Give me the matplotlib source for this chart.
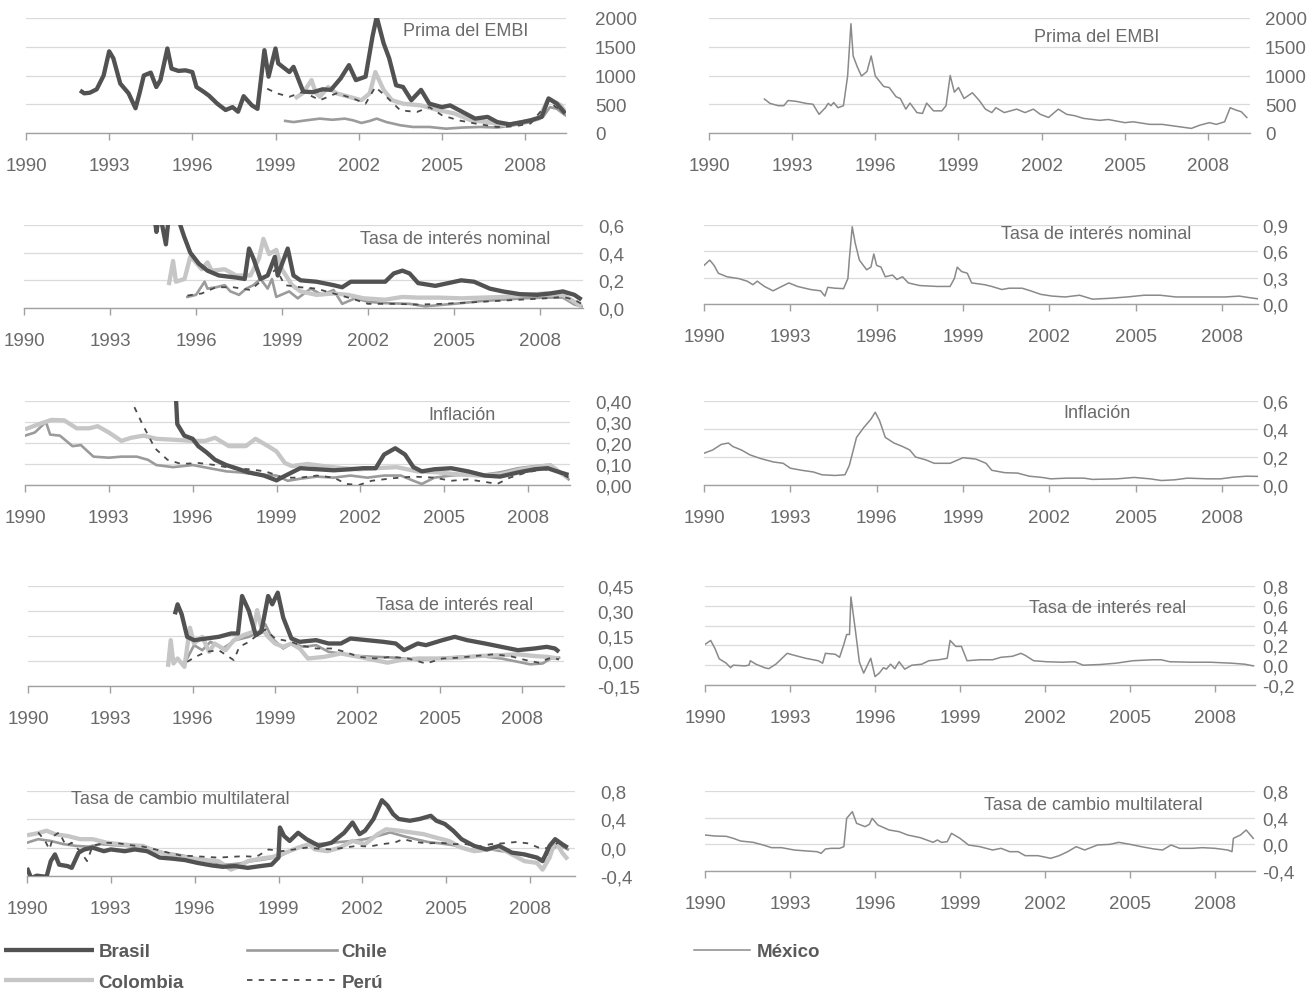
import matplotlib.pyplot as plt
from matplotlib.ticker import FixedLocator, FuncFormatter

plt.rcParams['font.family'] = ['Liberation Sans Narrow', 'Liberation Sans', 'DejaVu Sans']

W, H = 1314, 1003
TXT = '#6a6a6a'

# ---------------- Prima del EMBI (pb) ----------------
embi_br_t = [1991.95, 1992.1, 1992.3, 1992.55, 1992.8, 1993.0, 1993.15, 1993.4, 1993.7, 1993.95,
             1994.1, 1994.25, 1994.5, 1994.7, 1994.85, 1995.1, 1995.25, 1995.5, 1995.75, 1996.0,
             1996.15, 1996.4, 1996.6, 1996.9, 1997.2, 1997.45, 1997.65, 1997.85, 1998.15, 1998.35,
             1998.6, 1998.75, 1999.0, 1999.1, 1999.5, 1999.65, 2000.0, 2000.35, 2000.7, 2001.0,
             2001.35, 2001.65, 2001.9, 2002.25, 2002.5, 2002.65, 2002.9, 2003.1, 2003.35, 2003.6,
             2003.9, 2004.25, 2004.55, 2005.0, 2005.3, 2005.75, 2006.2, 2006.65, 2007.0, 2007.45,
             2007.9, 2008.2, 2008.6, 2008.85, 2009.15, 2009.45]
embi_br = [740, 690, 700, 760, 1000, 1420, 1300, 860, 690, 430,
           700, 1000, 1050, 800, 920, 1470, 1120, 1080, 1090, 1060,
           800, 720, 650, 510, 400, 450, 370, 640, 480, 420,
           1440, 980, 1470, 1210, 1060, 1150, 720, 710, 760, 750,
           950, 1180, 920, 980, 1680, 2020, 1560, 1300, 830, 800,
           570, 750, 510, 450, 480, 365, 250, 280, 190, 150,
           190, 220, 280, 600, 510, 340]
embi_co_t = [1999.7, 2000.0, 2000.3, 2000.45, 2000.6, 2000.9, 2001.2, 2001.65, 2002.1, 2002.4,
             2002.6, 2002.9, 2003.2, 2003.6, 2004.25, 2004.85, 2005.45, 2006.05, 2006.65, 2007.3,
             2007.9, 2008.5, 2008.85, 2009.3, 2009.45]
embi_co = [600, 700, 920, 700, 630, 800, 690, 630, 570, 690,
           1060, 750, 570, 510, 480, 400, 340, 220, 190, 135,
           190, 250, 600, 480, 365]
embi_ch_t = [1999.35, 1999.65, 2000.1, 2000.6, 2001.05, 2001.5, 2001.8, 2002.1, 2002.4, 2002.65,
             2003.0, 2003.5, 2003.95, 2004.55, 2005.15, 2005.75, 2006.4, 2007.0, 2007.6, 2008.2,
             2008.65, 2008.9, 2009.15, 2009.45]
embi_ch = [210, 190, 220, 250, 230, 250, 220, 175, 210, 250,
           190, 135, 105, 105, 75, 95, 105, 95, 135, 190,
           280, 450, 420, 310]
embi_pe_t = [1998.7, 1999.05, 1999.5, 2000.0, 2000.6, 2001.2, 2001.8, 2002.25, 2002.6, 2003.0,
             2003.5, 2004.1, 2004.55, 2005.0, 2005.6, 2006.2, 2007.0, 2007.6, 2008.2, 2008.85,
             2009.45]
embi_pe = [770, 690, 630, 715, 570, 690, 600, 510, 800, 630,
           395, 365, 450, 310, 220, 165, 105, 115, 165, 540,
           340]
embi_mx_t = [1992.0, 1992.2, 1992.5, 1992.7, 1992.85, 1993.15, 1993.5, 1993.75, 1993.97, 1994.2,
             1994.3, 1994.4, 1994.5, 1994.65, 1994.85, 1995.0, 1995.12, 1995.2, 1995.35, 1995.5,
             1995.7, 1995.85, 1996.0, 1996.15, 1996.3, 1996.5, 1996.75, 1996.9, 1997.1, 1997.25,
             1997.5, 1997.7, 1997.85, 1998.1, 1998.4, 1998.55, 1998.7, 1998.85, 1999.0, 1999.2,
             1999.5, 1999.75, 1999.97, 2000.2, 2000.35, 2000.65, 2001.1, 2001.4, 2001.7, 2001.95,
             2002.25, 2002.6, 2002.9, 2003.2, 2003.5, 2004.1, 2004.4, 2005.0, 2005.3, 2005.9,
             2006.35, 2006.8, 2007.4, 2007.7, 2008.05, 2008.3, 2008.6, 2008.8, 2009.0, 2009.2,
             2009.4]
embi_mx = [590, 515, 475, 475, 565, 550, 515, 500, 325, 440,
           515, 475, 530, 440, 475, 990, 1900, 1340, 1150, 990,
           1070, 1340, 990, 900, 810, 790, 630, 600, 415, 520,
           355, 340, 520, 385, 385, 475, 1000, 710, 790, 600,
           700, 565, 415, 355, 440, 355, 415, 355, 415, 325,
           270, 415, 325, 300, 255, 220, 235, 180, 195, 150,
           150, 120, 80, 135, 180, 150, 195, 440, 400, 370,
           270]

# ---------------- Tasa de interés nominal ----------------
nom_br_t = [1994.55, 1994.62, 1994.7, 1994.8, 1994.95, 1995.05, 1995.25, 1995.42, 1995.58, 1995.8,
            1996.1, 1996.4, 1996.8, 1997.4, 1997.7, 1997.85, 1998.0, 1998.25, 1998.5, 1998.75,
            1998.85, 1999.2, 1999.4, 1999.65, 2000.2, 2000.8, 2001.1, 2001.4, 2002.0, 2002.6,
            2002.9, 2003.2, 2003.45, 2003.75, 2004.35, 2004.8, 2005.25, 2005.7, 2006.25, 2006.7,
            2007.3, 2007.9, 2008.35, 2008.8, 2009.2, 2009.45]
nom_br = [0.66, 0.55, 0.66, 0.62, 0.46, 0.66, 0.90, 0.62, 0.52, 0.40,
          0.32, 0.27, 0.235, 0.22, 0.21, 0.43, 0.36, 0.21, 0.235, 0.37,
          0.235, 0.43, 0.235, 0.20, 0.19, 0.165, 0.15, 0.19, 0.19, 0.19,
          0.25, 0.27, 0.25, 0.18, 0.16, 0.18, 0.20, 0.19, 0.14, 0.12,
          0.10, 0.095, 0.105, 0.12, 0.095, 0.06]
nom_co_t = [1995.05, 1995.2, 1995.3, 1995.6, 1995.8, 1995.95, 1996.2, 1996.4, 1996.55, 1997.0,
            1997.4, 1997.9, 1998.2, 1998.35, 1998.55, 1998.8, 1999.0, 1999.35, 1999.65, 2000.2,
            2000.8, 2001.3, 2001.85, 2002.6, 2003.2, 2003.75, 2004.5, 2005.25, 2005.95, 2006.7,
            2007.45, 2008.2, 2008.8, 2009.2, 2009.45]
nom_co = [0.165, 0.34, 0.19, 0.21, 0.37, 0.34, 0.28, 0.33, 0.27, 0.28,
          0.235, 0.235, 0.36, 0.50, 0.39, 0.42, 0.28, 0.165, 0.12, 0.095,
          0.105, 0.095, 0.07, 0.06, 0.08, 0.075, 0.075, 0.07, 0.075, 0.08,
          0.095, 0.105, 0.095, 0.045, 0.01]
nom_ch_t = [1995.7, 1996.0, 1996.3, 1996.4, 1996.7, 1997.0, 1997.2, 1997.5, 1997.75, 1998.0,
            1998.25, 1998.5, 1998.65, 1998.8, 1999.25, 1999.55, 2000.0, 2000.4, 2000.8, 2001.1,
            2001.55, 2002.0, 2002.6, 2003.45, 2004.0, 2004.7, 2005.25, 2005.95, 2006.7, 2007.45,
            2008.2, 2008.8, 2009.2, 2009.45]
nom_ch = [0.08, 0.095, 0.19, 0.14, 0.15, 0.165, 0.12, 0.095, 0.14, 0.165,
          0.21, 0.14, 0.21, 0.08, 0.12, 0.07, 0.14, 0.095, 0.13, 0.03,
          0.07, 0.045, 0.035, 0.03, 0.012, 0.025, 0.035, 0.05, 0.06, 0.07,
          0.075, 0.075, 0.025, 0.012]
nom_pe_t = [1995.7, 1996.2, 1996.7, 1997.3, 1997.9, 1998.5, 1998.8, 1999.1, 1999.65, 2000.2,
            2000.8, 2001.4, 2002.0, 2002.9, 2003.75, 2004.6, 2005.55, 2006.4, 2007.3, 2008.2,
            2008.8, 2009.2, 2009.45]
nom_pe = [0.09, 0.105, 0.15, 0.15, 0.13, 0.235, 0.28, 0.165, 0.15, 0.14,
          0.105, 0.07, 0.03, 0.03, 0.025, 0.03, 0.04, 0.05, 0.06, 0.07,
          0.08, 0.06, 0.03]
nom_mx_t = [1990.0, 1990.2, 1990.35, 1990.5, 1990.8, 1991.2, 1991.5, 1991.7, 1991.85, 1992.1,
            1992.4, 1992.7, 1992.95, 1993.25, 1993.7, 1994.05, 1994.2, 1994.3, 1994.55, 1994.85,
            1995.0, 1995.05, 1995.15, 1995.25, 1995.4, 1995.65, 1995.8, 1995.9, 1996.0, 1996.15,
            1996.3, 1996.55, 1996.7, 1996.9, 1997.1, 1997.5, 1998.1, 1998.55, 1998.7, 1998.8,
            1998.95, 1999.15, 1999.3, 1999.75, 2000.0, 2000.35, 2000.6, 2001.05, 2001.35, 2001.7,
            2002.1, 2002.55, 2003.05, 2003.35, 2003.5, 2004.1, 2004.7, 2005.3, 2005.85, 2006.4,
            2007.25, 2008.1, 2008.6, 2009.0, 2009.35]
nom_mx = [0.44, 0.50, 0.44, 0.35, 0.31, 0.29, 0.26, 0.22, 0.26, 0.20,
          0.15, 0.20, 0.24, 0.20, 0.165, 0.15, 0.09, 0.19, 0.18, 0.175,
          0.29, 0.51, 0.88, 0.70, 0.50, 0.39, 0.42, 0.57, 0.44, 0.42,
          0.31, 0.33, 0.28, 0.31, 0.24, 0.21, 0.20, 0.20, 0.29, 0.42,
          0.37, 0.35, 0.24, 0.22, 0.20, 0.165, 0.18, 0.18, 0.15, 0.11,
          0.09, 0.08, 0.10, 0.07, 0.055, 0.065, 0.08, 0.10, 0.10, 0.08,
          0.08, 0.08, 0.09, 0.07, 0.055]

# ---------------- Inflación ----------------
inf_br_t = [1995.35, 1995.45, 1995.7, 1996.0, 1996.2, 1996.5, 1996.8, 1997.2, 1997.55, 1998.0,
            1998.55, 1999.0, 1999.25, 1999.55, 1999.85, 2000.45, 2001.05, 2001.65, 2002.1, 2002.55,
            2002.85, 2003.25, 2003.6, 2003.9, 2004.2, 2004.65, 2005.25, 2005.85, 2006.45, 2007.0,
            2007.65, 2008.25, 2008.7, 2009.15, 2009.45]
inf_br = [0.55, 0.29, 0.235, 0.22, 0.185, 0.155, 0.12, 0.095, 0.08, 0.06,
          0.045, 0.022, 0.04, 0.06, 0.08, 0.075, 0.07, 0.075, 0.08, 0.08,
          0.145, 0.175, 0.145, 0.085, 0.065, 0.075, 0.08, 0.065, 0.045, 0.04,
          0.06, 0.075, 0.08, 0.06, 0.048]
inf_co_t = [1990.0, 1990.5, 1990.95, 1991.4, 1991.85, 1992.3, 1992.6, 1993.0, 1993.45, 1993.8,
            1994.25, 1994.7, 1995.4, 1996.0, 1996.45, 1996.8, 1997.3, 1997.9, 1998.25, 1998.7,
            1999.0, 1999.3, 1999.55, 2000.1, 2000.7, 2001.35, 2001.95, 2002.55, 2003.3, 2004.05,
            2004.8, 2005.55, 2006.3, 2007.0, 2007.75, 2008.5, 2008.8, 2009.25, 2009.45]
inf_co = [0.265, 0.29, 0.31, 0.308, 0.27, 0.27, 0.28, 0.25, 0.21, 0.225,
          0.235, 0.22, 0.215, 0.21, 0.21, 0.225, 0.185, 0.185, 0.22, 0.185,
          0.16, 0.105, 0.09, 0.10, 0.09, 0.08, 0.075, 0.08, 0.085, 0.065,
          0.06, 0.05, 0.045, 0.05, 0.075, 0.09, 0.095, 0.05, 0.035]
inf_ch_t = [1990.0, 1990.35, 1990.75, 1990.9, 1991.25, 1991.7, 1992.0, 1992.45, 1993.0, 1993.45,
            1994.0, 1994.4, 1994.7, 1995.3, 1996.0, 1996.6, 1997.2, 1997.7, 1998.35, 1999.0,
            1999.4, 1999.85, 2000.45, 2001.05, 2001.65, 2002.25, 2002.85, 2003.45, 2003.9, 2004.2,
            2004.65, 2005.25, 2005.85, 2006.45, 2007.0, 2007.65, 2008.25, 2008.7, 2009.15, 2009.45]
inf_ch = [0.235, 0.25, 0.30, 0.24, 0.235, 0.185, 0.19, 0.135, 0.13, 0.135,
          0.135, 0.12, 0.095, 0.085, 0.095, 0.08, 0.065, 0.06, 0.05, 0.045,
          0.02, 0.03, 0.04, 0.035, 0.045, 0.035, 0.045, 0.045, 0.02, 0.005,
          0.035, 0.045, 0.05, 0.05, 0.06, 0.08, 0.09, 0.095, 0.06, 0.027]
inf_pe_t = [1993.75, 1993.9, 1994.2, 1994.65, 1995.1, 1995.6, 1996.2, 1996.8, 1997.4, 1998.0,
            1998.6, 1999.25, 1999.85, 2000.45, 2001.05, 2001.5, 2001.95, 2002.4, 2003.15, 2003.9,
            2004.65, 2005.25, 2005.85, 2006.45, 2006.9, 2007.35, 2007.95, 2008.55, 2009.0, 2009.45]
inf_pe = [0.48, 0.375, 0.29, 0.175, 0.12, 0.10, 0.105, 0.095, 0.08, 0.075,
          0.065, 0.035, 0.035, 0.045, 0.035, 0.005, 0.0, 0.02, 0.032, 0.04,
          0.035, 0.02, 0.027, 0.015, 0.005, 0.035, 0.06, 0.075, 0.065, 0.035]
inf_mx_t = [1990.0, 1990.3, 1990.6, 1990.85, 1991.0, 1991.3, 1991.6, 1991.95, 1992.4, 1992.75,
            1993.0, 1993.4, 1993.8, 1994.1, 1994.55, 1994.9, 1995.05, 1995.3, 1995.55, 1995.8,
            1995.95, 1996.1, 1996.3, 1996.6, 1996.9, 1997.15, 1997.35, 1997.7, 1998.0, 1998.55,
            1999.0, 1999.45, 1999.8, 2000.0, 2000.45, 2000.9, 2001.3, 2001.75, 2002.05, 2002.6,
            2003.2, 2003.5, 2004.35, 2004.95, 2005.5, 2005.9, 2006.35, 2006.8, 2007.5, 2007.95,
            2008.4, 2008.85, 2009.35]
inf_mx = [0.227, 0.25, 0.29, 0.30, 0.275, 0.25, 0.215, 0.19, 0.165, 0.155,
          0.12, 0.105, 0.093, 0.073, 0.068, 0.073, 0.14, 0.34, 0.41, 0.47,
          0.52, 0.46, 0.34, 0.30, 0.275, 0.25, 0.20, 0.18, 0.155, 0.155,
          0.195, 0.185, 0.155, 0.105, 0.088, 0.085, 0.063, 0.054, 0.044, 0.049,
          0.049, 0.04, 0.044, 0.054, 0.044, 0.032, 0.037, 0.049, 0.044, 0.044,
          0.056, 0.063, 0.061]

# ---------------- Tasa de interés real ----------------
real_br_t = [1995.35, 1995.45, 1995.6, 1995.8, 1996.05, 1996.5, 1996.95, 1997.4, 1997.65, 1997.8,
             1998.05, 1998.3, 1998.5, 1998.75, 1998.9, 1999.1, 1999.3, 1999.6, 1999.9, 2000.5,
             2000.95, 2001.4, 2001.75, 2002.35, 2002.95, 2003.4, 2003.7, 2004.2, 2004.5, 2005.1,
             2005.55, 2006.0, 2006.65, 2007.25, 2007.85, 2008.45, 2008.9, 2009.2, 2009.35]
real_br = [0.28, 0.34, 0.28, 0.145, 0.125, 0.135, 0.145, 0.165, 0.165, 0.39,
           0.30, 0.155, 0.175, 0.39, 0.34, 0.41, 0.26, 0.135, 0.115, 0.125,
           0.105, 0.105, 0.135, 0.125, 0.115, 0.105, 0.065, 0.105, 0.095, 0.125,
           0.145, 0.125, 0.105, 0.085, 0.065, 0.075, 0.085, 0.075, 0.055]
real_co_t = [1995.1, 1995.2, 1995.3, 1995.45, 1995.7, 1995.9, 1996.05, 1996.35, 1996.6, 1996.8,
             1997.2, 1997.5, 1997.85, 1998.2, 1998.35, 1998.5, 1998.75, 1999.0, 1999.3, 1999.6,
             1999.9, 2000.2, 2000.8, 2001.4, 2002.05, 2002.65, 2003.1, 2003.55, 2004.2, 2004.9,
             2005.7, 2006.45, 2007.25, 2007.85, 2008.45, 2008.9, 2009.35]
real_co = [-0.035, 0.125, -0.015, 0.015, -0.035, 0.20, 0.105, 0.145, 0.055, 0.105,
           0.065, 0.125, 0.155, 0.175, 0.305, 0.20, 0.145, 0.105, 0.085, 0.105,
           0.075, 0.015, 0.025, 0.045, 0.025, 0.005, -0.01, 0.005, 0.015, 0.015,
           0.02, 0.03, 0.035, 0.04, 0.03, 0.025, 0.015]
real_ch_t = [1995.8, 1996.05, 1996.35, 1996.65, 1997.1, 1997.55, 1998.05, 1998.4, 1998.65, 1998.9,
             1999.3, 1999.6, 2000.05, 2000.5, 2000.95, 2001.4, 2002.05, 2002.65, 2003.4, 2004.2,
             2004.9, 2005.7, 2006.45, 2007.25, 2007.85, 2008.3, 2008.75, 2009.05, 2009.35]
real_ch = [0.015, 0.095, 0.065, 0.115, 0.075, 0.125, 0.145, 0.175, 0.22, 0.135,
           0.075, 0.105, 0.085, 0.095, 0.055, 0.045, 0.03, 0.025, 0.02, 0.005,
           0.015, 0.025, 0.03, 0.015, -0.005, -0.02, -0.015, 0.015, 0.02]
real_pe_t = [1995.8, 1996.1, 1996.5, 1996.95, 1997.5, 1997.7, 1998.05, 1998.35, 1998.65, 1999.0,
             1999.3, 1999.6, 1999.9, 2000.5, 2001.1, 2001.55, 2002.05, 2002.65, 2003.25, 2003.85,
             2004.5, 2005.1, 2005.7, 2006.3, 2006.95, 2007.55, 2008.15, 2008.6, 2009.05, 2009.35]
real_pe = [-0.005, 0.025, 0.055, 0.065, 0.005, 0.085, 0.115, 0.155, 0.19, 0.135,
           0.125, 0.115, 0.095, 0.075, 0.075, 0.055, 0.025, 0.015, 0.025, 0.015,
           -0.015, 0.015, 0.02, 0.03, 0.04, 0.03, 0.005, -0.01, 0.02, 0.01]
real_mx_t = [1990.0, 1990.2, 1990.35, 1990.5, 1990.75, 1990.9, 1991.0, 1991.4, 1991.55, 1991.6,
             1991.8, 1992.1, 1992.25, 1992.5, 1992.7, 1992.9, 1993.15, 1993.55, 1994.0, 1994.15,
             1994.25, 1994.6, 1994.75, 1994.9, 1995.0, 1995.1, 1995.15, 1995.3, 1995.45, 1995.6,
             1995.85, 1996.0, 1996.15, 1996.3, 1996.4, 1996.55, 1996.7, 1996.85, 1997.05, 1997.3,
             1997.65, 1997.9, 1998.25, 1998.55, 1998.65, 1998.85, 1999.05, 1999.25, 1999.7, 2000.15,
             2000.45, 2000.85, 2001.15, 2001.3, 2001.6, 2002.05, 2002.6, 2003.05, 2003.35, 2003.95,
             2004.5, 2005.1, 2005.8, 2006.1, 2006.4, 2007.15, 2007.85, 2008.6, 2009.05, 2009.35]
real_mx = [0.21, 0.25, 0.17, 0.065, 0.02, -0.025, 0.0, -0.007, 0.0, 0.045,
           0.01, -0.025, -0.035, 0.01, 0.065, 0.12, 0.10, 0.07, 0.045, 0.02,
           0.12, 0.11, 0.08, 0.21, 0.31, 0.31, 0.69, 0.37, 0.03, -0.08,
           0.07, -0.115, -0.08, -0.025, -0.04, 0.01, -0.035, 0.035, -0.04, 0.0,
           0.01, 0.045, 0.055, 0.07, 0.25, 0.19, 0.19, 0.045, 0.055, 0.055,
           0.08, 0.09, 0.12, 0.10, 0.045, 0.035, 0.03, 0.035, 0.0, 0.007,
           0.02, 0.045, 0.055, 0.055, 0.035, 0.03, 0.03, 0.02, 0.01, -0.007]

# ---------------- Tasa de cambio multilateral ----------------
tcm_br_t = [1990.0, 1990.15, 1990.35, 1990.55, 1990.7, 1990.85, 1991.0, 1991.15, 1991.45, 1991.6,
            1991.85, 1992.05, 1992.35, 1992.75, 1993.0, 1993.5, 1993.85, 1994.3, 1994.75, 1995.2,
            1995.65, 1996.1, 1996.6, 1997.0, 1997.45, 1997.9, 1998.35, 1998.75, 1999.0, 1999.05,
            1999.2, 1999.4, 1999.7, 2000.0, 2000.45, 2000.9, 2001.35, 2001.65, 2001.9, 2002.1,
            2002.4, 2002.7, 2002.9, 2003.1, 2003.3, 2003.7, 2004.05, 2004.45, 2004.65, 2004.95,
            2005.25, 2005.55, 2006.0, 2006.45, 2006.9, 2007.35, 2007.8, 2008.25, 2008.45, 2008.7,
            2008.9, 2009.15, 2009.35]
tcm_br = [-0.285, -0.43, -0.395, -0.405, -0.41, -0.19, -0.095, -0.24, -0.26, -0.285,
          -0.07, -0.025, 0.0, -0.05, -0.025, -0.05, -0.025, -0.05, -0.14, -0.155,
          -0.175, -0.215, -0.25, -0.27, -0.26, -0.285, -0.26, -0.24, -0.14, 0.285,
          0.165, 0.095, 0.21, 0.12, 0.025, 0.07, 0.21, 0.355, 0.19, 0.24,
          0.405, 0.67, 0.595, 0.475, 0.405, 0.38, 0.405, 0.45, 0.38, 0.335,
          0.24, 0.12, 0.025, -0.025, 0.025, -0.07, -0.095, -0.14, -0.19, 0.025,
          0.12, 0.05, 0.0]
tcm_co_t = [1990.0, 1990.4, 1990.7, 1991.0, 1991.45, 1991.9, 1992.35, 1992.85, 1993.3, 1993.7,
            1994.15, 1994.6, 1995.05, 1995.5, 1996.0, 1996.4, 1996.85, 1997.3, 1997.6, 1997.9,
            1998.35, 1998.8, 1999.25, 1999.7, 2000.1, 2000.3, 2000.75, 2001.2, 2001.65, 2002.1,
            2002.55, 2002.85, 2003.3, 2003.75, 2004.2, 2004.65, 2005.1, 2005.55, 2006.0, 2006.45,
            2006.9, 2007.35, 2007.8, 2008.25, 2008.45, 2008.7, 2008.9, 2009.15, 2009.35]
tcm_co = [0.175, 0.205, 0.24, 0.19, 0.165, 0.12, 0.12, 0.07, 0.05, 0.035,
          0.025, -0.05, -0.095, -0.13, -0.155, -0.175, -0.19, -0.31, -0.26, -0.19,
          -0.155, -0.13, -0.07, 0.0, 0.05, -0.025, -0.05, 0.0, 0.095, 0.05,
          0.19, 0.26, 0.24, 0.215, 0.19, 0.14, 0.095, 0.0, -0.05, -0.025,
          0.0, -0.095, -0.19, -0.215, -0.31, -0.14, 0.095, -0.07, -0.165]
tcm_ch_t = [1990.0, 1990.4, 1990.85, 1991.3, 1991.75, 1992.2, 1992.65, 1993.1, 1993.55, 1994.0,
            1994.45, 1994.9, 1995.35, 1995.8, 1996.3, 1996.7, 1997.15, 1997.6, 1998.05, 1998.5,
            1999.0, 1999.4, 1999.85, 2000.3, 2000.75, 2001.2, 2001.65, 2002.1, 2002.55, 2003.0,
            2003.45, 2003.9, 2004.35, 2004.8, 2005.25, 2005.7, 2006.15, 2006.6, 2007.0, 2007.5,
            2007.95, 2008.4, 2008.7, 2009.0, 2009.35]
tcm_ch = [0.07, 0.12, 0.095, 0.05, 0.025, 0.015, 0.05, 0.035, 0.025, 0.0,
          -0.015, -0.07, -0.095, -0.13, -0.175, -0.205, -0.24, -0.225, -0.19, -0.165,
          -0.13, -0.05, 0.025, 0.05, 0.06, 0.08, 0.095, 0.12, 0.165, 0.215,
          0.165, 0.12, 0.08, 0.06, 0.035, -0.015, -0.05, -0.025, -0.05, -0.07,
          -0.12, -0.165, -0.07, 0.05, -0.025]
tcm_pe_t = [1990.4, 1990.65, 1990.8, 1990.95, 1991.15, 1991.4, 1991.6, 1991.9, 1992.15, 1992.35,
            1992.8, 1993.3, 1993.7, 1994.15, 1994.6, 1995.05, 1995.5, 1996.0, 1996.4, 1996.85,
            1997.3, 1997.75, 1998.2, 1998.65, 1999.1, 1999.55, 2000.0, 2000.45, 2000.9, 2001.35,
            2001.8, 2002.25, 2002.7, 2003.15, 2003.45, 2003.9, 2004.35, 2004.8, 2005.25, 2005.7,
            2006.15, 2006.6, 2007.0, 2007.5, 2007.95, 2008.4, 2008.7, 2009.0, 2009.35]
tcm_pe = [0.215, 0.095, -0.025, 0.165, 0.215, 0.025, 0.07, -0.05, -0.19, 0.025,
          0.07, 0.06, 0.035, 0.015, -0.025, -0.07, -0.11, -0.12, -0.13, -0.14,
          -0.13, -0.12, -0.13, -0.025, -0.05, -0.025, 0.0, -0.015, -0.025, 0.0,
          0.025, 0.015, 0.05, 0.07, 0.12, 0.08, 0.06, 0.07, 0.05, 0.05,
          0.015, 0.05, 0.06, 0.08, 0.06, -0.015, 0.0, 0.07, 0.015]
tcm_mx_t = [1990.0, 1990.35, 1990.75, 1991.0, 1991.25, 1991.7, 1992.05, 1992.35, 1992.7, 1993.15,
            1993.6, 1993.95, 1994.1, 1994.25, 1994.45, 1994.75, 1994.9, 1995.0, 1995.1, 1995.2,
            1995.35, 1995.65, 1995.8, 1995.9, 1996.1, 1996.5, 1996.85, 1997.15, 1997.6, 1998.05,
            1998.2, 1998.35, 1998.55, 1998.7, 1999.0, 1999.3, 1999.7, 2000.15, 2000.45, 2000.75,
            2001.05, 2001.3, 2001.75, 2002.2, 2002.5, 2002.8, 2003.1, 2003.4, 2003.85, 2004.3,
            2004.6, 2005.0, 2005.4, 2005.85, 2006.15, 2006.45, 2006.75, 2007.2, 2007.55, 2008.0,
            2008.45, 2008.6, 2008.65, 2008.9, 2009.1, 2009.35]
tcm_mx = [0.14, 0.125, 0.12, 0.09, 0.05, 0.03, -0.01, -0.05, -0.05, -0.085,
          -0.10, -0.11, -0.135, -0.07, -0.06, -0.06, -0.035, 0.39, 0.44, 0.49,
          0.315, 0.265, 0.30, 0.39, 0.29, 0.215, 0.19, 0.14, 0.10, 0.03,
          0.065, 0.03, 0.04, 0.165, 0.09, -0.01, -0.035, -0.085, -0.06, -0.11,
          -0.11, -0.17, -0.17, -0.21, -0.17, -0.11, -0.035, -0.085, -0.01, 0.0,
          0.03, 0.0, -0.035, -0.07, -0.085, -0.01, -0.06, -0.06, -0.05, -0.06,
          -0.085, -0.11, 0.09, 0.14, 0.215, 0.09]

year_ticks = [1990, 1993, 1996, 1999, 2002, 2005, 2008]

styles = {
    'Brasil': dict(color='#525252', lw=3.1, zorder=5, solid_capstyle='butt'),
    'Colombia': dict(color='#c6c6c6', lw=3.1, zorder=3, solid_capstyle='butt'),
    'Chile': dict(color='#9b9b9b', lw=1.9, zorder=2),
    'Perú': dict(color='#4a4a4a', lw=1.3, zorder=4, dashes=(3, 3.5)),
    'México': dict(color='#8a8a8a', lw=1.1, zorder=3),
}

fig = plt.figure(figsize=(W / 100, H / 100), dpi=100)


def add_panel(geom, yticks, ndec, title, title_xy, series):
    # geom: pixel x of 1990 tick, x of 2008 tick, right end, y of top and base gridlines, y label x
    x90, x08, xr, yt, yb, lx = geom
    ax = fig.add_axes([x90 / W, 1 - yb / H, (xr - x90) / W, (yb - yt) / H])
    ax.set_xlim(1990, 1990 + (xr - x90) / (x08 - x90) * 18)
    ax.set_ylim(yticks[0], yticks[-1])
    for name, (t, v) in series.items():
        ax.plot(t, v, label=name, **styles[name])
    for s in ('top', 'left', 'right'):
        ax.spines[s].set_visible(False)
    ax.spines['bottom'].set_color('#a0a0a0')
    ax.spines['bottom'].set_linewidth(1.0)
    ax.xaxis.set_major_locator(FixedLocator(year_ticks))
    ax.tick_params(axis='x', length=5, width=1, color='#a0a0a0', pad=12,
                   labelsize=13.5, labelcolor=TXT)
    ax.yaxis.tick_right()
    ax.yaxis.set_major_locator(FixedLocator(yticks))
    ax.yaxis.set_major_formatter(FuncFormatter(
        lambda v, p: f"{round(v, ndec) + 0.0:.{ndec}f}".replace('.', ',')))
    ax.tick_params(axis='y', length=0, pad=(lx - xr) * 0.72, labelsize=13.5, labelcolor=TXT)
    ax.grid(axis='y', color='#dadada', lw=0.9)
    ax.set_axisbelow(True)
    fig.text(title_xy[0] / W, 1 - title_xy[1] / H, title, ha='center', va='center',
             fontsize=13, color=TXT)
    return ax


ax_embi = add_panel((26, 525, 566, 19, 134, 595), [0, 500, 1000, 1500, 2000], 0,
                    'Prima del EMBI', (466, 32),
                    {'Chile': (embi_ch_t, embi_ch), 'Colombia': (embi_co_t, embi_co),
                     'Perú': (embi_pe_t, embi_pe), 'Brasil': (embi_br_t, embi_br)})
add_panel((709, 1208, 1250, 19, 134, 1265), [0, 500, 1000, 1500, 2000], 0,
          'Prima del EMBI', (1097, 38), {'México': (embi_mx_t, embi_mx)})

add_panel((24, 540, 583, 226, 309, 598), [0.0, 0.2, 0.4, 0.6], 1,
          'Tasa de interés nominal', (455, 240),
          {'Chile': (nom_ch_t, nom_ch), 'Colombia': (nom_co_t, nom_co),
           'Perú': (nom_pe_t, nom_pe), 'Brasil': (nom_br_t, nom_br)})
add_panel((704, 1222, 1258, 226, 305, 1262), [0.0, 0.3, 0.6, 0.9], 1,
          'Tasa de interés nominal', (1096, 235), {'México': (nom_mx_t, nom_mx)})

add_panel((25, 528, 570, 402, 486, 595), [0.0, 0.1, 0.2, 0.3, 0.4], 2,
          'Inflación', (462, 415),
          {'Chile': (inf_ch_t, inf_ch), 'Colombia': (inf_co_t, inf_co),
           'Perú': (inf_pe_t, inf_pe), 'Brasil': (inf_br_t, inf_br)})
add_panel((704, 1222, 1258, 402, 486, 1262), [0.0, 0.2, 0.4, 0.6], 1,
          'Inflación', (1097, 414), {'México': (inf_mx_t, inf_mx)})

add_panel((28, 522, 564, 587, 687, 597), [-0.15, 0.0, 0.15, 0.30, 0.45], 2,
          'Tasa de interés real', (455, 605),
          {'Chile': (real_ch_t, real_ch), 'Colombia': (real_co_t, real_co),
           'Perú': (real_pe_t, real_pe), 'Brasil': (real_br_t, real_br)})
add_panel((705, 1215, 1255, 587, 686, 1262), [-0.2, 0.0, 0.2, 0.4, 0.6, 0.8], 1,
          'Tasa de interés real', (1108, 609), {'México': (real_mx_t, real_mx)})

add_panel((27, 530, 575, 792, 877, 600), [-0.4, 0.0, 0.4, 0.8], 1,
          'Tasa de cambio multilateral', (180, 800),
          {'Chile': (tcm_ch_t, tcm_ch), 'Colombia': (tcm_co_t, tcm_co),
           'Perú': (tcm_pe_t, tcm_pe), 'Brasil': (tcm_br_t, tcm_br)})
ax_mx = add_panel((705, 1215, 1255, 792, 872, 1262), [-0.4, 0.0, 0.4, 0.8], 1,
                  'Tasa de cambio multilateral', (1093, 805), {'México': (tcm_mx_t, tcm_mx)})

# legends below the panels
h = {l.get_label(): l for l in ax_embi.get_lines()}
leg_kw = dict(frameon=False, loc='upper left', handlelength=4.8, handletextpad=0.25,
              borderpad=0, borderaxespad=0, labelspacing=0.72,
              prop={'size': 13.5, 'weight': 'bold'}, labelcolor='#5a5a5a')
fig.legend([h['Brasil'], h['Colombia'], h['Chile'], h['Perú']],
           ['Brasil', 'Colombia', 'Chile', 'Perú'], ncol=2, columnspacing=3.35,
           bbox_to_anchor=(4 / W, 1 - 944 / H), **leg_kw)
mx_line = ax_mx.get_lines()[0]
fig.legend([mx_line], ['México'], bbox_to_anchor=(694 / W, 1 - 944 / H),
           **{**leg_kw, 'handlelength': 3.0, 'handletextpad': 0.35})

fig.savefig('out.png', dpi=100, facecolor='white')
